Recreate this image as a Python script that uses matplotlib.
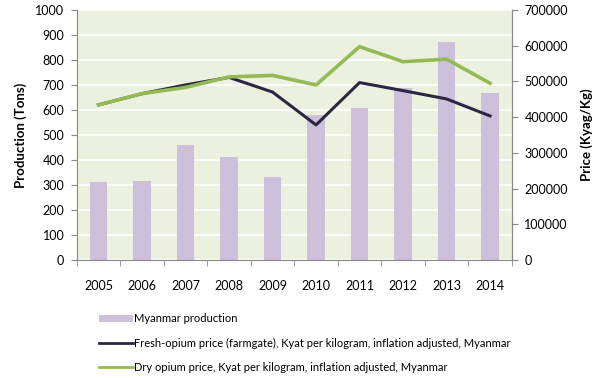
import numpy as np
import matplotlib.pyplot as plt
from matplotlib.patches import Patch
from matplotlib.lines import Line2D

years = ["2005", "2006", "2007", "2008", "2009", "2010", "2011", "2012", "2013", "2014"]
production = [312, 315, 460, 410, 330, 580, 609, 689, 871, 669]
fresh_price = [434000, 465500, 490000, 511000, 470000, 378000, 496500, 474000, 450800, 403200]
dry_price = [434000, 465500, 483000, 512400, 516600, 490000, 597000, 555000, 562000, 494700]

plt.rcParams["font.family"] = ["Lato", "DejaVu Sans"]
bar_col = "#CCC0DA"
fresh_col = "#2D2642"
dry_col = "#92BB55"

fig = plt.figure(figsize=(6, 3.78), dpi=100)
ax = fig.add_axes([0.128, 0.312, 0.725, 0.662])
x = np.arange(len(years))

ax.set_facecolor("#EBF1DE")
ax.bar(x, production, width=0.4, color=bar_col, zorder=2)
ax.set_ylim(0, 1000)
ax.set_yticks(np.arange(0, 1001, 100))
ax.set_xlim(-0.5, len(years) - 0.5)
ax.set_xticks(x)
ax.set_xticklabels(years)
ax.set_xticks(np.arange(-0.5, len(years)), minor=True)
ax.tick_params(axis="x", which="major", length=0, pad=14, labelsize=9)
ax.tick_params(axis="x", which="minor", length=4, color="#888888")
ax.tick_params(axis="y", length=4, color="#888888", labelsize=9, pad=5)
ax.grid(axis="y", color="white", lw=1.2, zorder=1)
ax.set_axisbelow(True)
ax.set_ylabel("Production (Tons)", fontsize=9.5, fontweight="bold", labelpad=6)
ax.spines["top"].set_visible(False)
for s in ["left", "bottom", "right"]:
    ax.spines[s].set_color("#888888")

ax2 = ax.twinx()
ax2.plot(x, fresh_price, color=fresh_col, lw=2.2, zorder=3)
ax2.plot(x, dry_price, color=dry_col, lw=2.6, zorder=4)
ax2.set_ylim(0, 700000)
ax2.set_yticks(np.arange(0, 700001, 100000))
ax2.tick_params(axis="y", length=4, color="#888888", labelsize=9, pad=5)
ax2.set_ylabel("Price (Kyag/Kg)", fontsize=9.5, fontweight="bold", labelpad=9)
ax2.spines["top"].set_visible(False)
ax2.spines["right"].set_color("#888888")
ax2.spines["left"].set_visible(False)
ax2.spines["bottom"].set_visible(False)

handles = [
    Patch(facecolor=bar_col, edgecolor="none"),
    Line2D([0], [0], color=fresh_col, lw=2),
    Line2D([0], [0], color=dry_col, lw=2),
]
labels = [
    "Myanmar production",
    "Fresh-opium price (farmgate), Kyat per kilogram, inflation adjusted, Myanmar",
    "Dry opium price, Kyat per kilogram, inflation adjusted, Myanmar",
]
fig.legend(handles, labels, loc="upper left", bbox_to_anchor=(0.158, 0.183),
           frameon=False, fontsize=8, handlelength=3.0, handleheight=0.6,
           handletextpad=0.1, labelspacing=1.2, borderaxespad=0)

fig.savefig("out.png", dpi=100)
